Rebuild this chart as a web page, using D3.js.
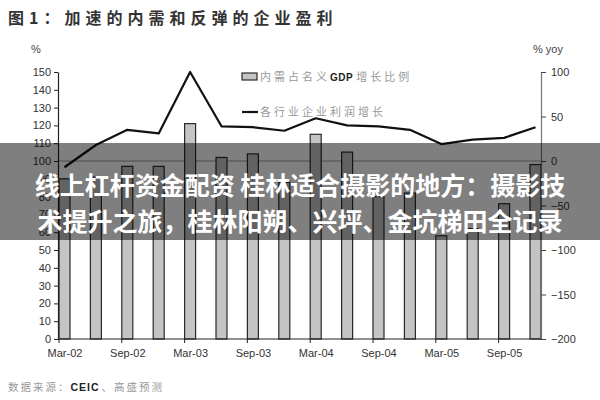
<!DOCTYPE html>
<html><head><meta charset="utf-8">
<script src="https://cdn.jsdelivr.net/npm/d3@7"></script>
<style>
html,body{margin:0;padding:0;background:#fff;}
svg{display:block;font-family:"Noto Sans CJK SC","Liberation Sans",sans-serif;}
</style></head>
<body>
<svg id="c" width="600" height="400"></svg>
<script>
const quarters = ["Mar-02","Jun-02","Sep-02","Dec-02","Mar-03","Jun-03","Sep-03","Dec-03","Mar-04","Jun-04","Sep-04","Dec-04","Mar-05","Jun-05","Sep-05","Dec-05"];
const tickLabels = ["Mar-02","Sep-02","Mar-03","Sep-03","Mar-04","Sep-04","Mar-05","Sep-05"];
const demandShare = [90, 91, 97, 97, 121, 102, 104, 88, 115, 105, 80, 82, 58, 62, 76, 98];
const profitGrowth = [-7, 18, 35, 31, 100, 39, 38, 34, 48, 40, 39, 35, 19, 24, 26, 38];
const leftTicks = [0,10,20,30,40,50,60,70,80,90,100,110,120,130,140,150];
const rightTicks = [100,50,0,-50,-100,-150,-200];
const legendLabels = [["内需占名义","GDP","增长比例"],["各行业企业利润增长"]];
const titleText = "图1：加速的内需和反弹的企业盈利";
const sourceText = ["数据来源：","CEIC","、高盛预测"];
const overlayLines = ["线上杠杆资金配资 桂林适合摄影的地方：摄影技","术提升之旅，桂林阳朔、兴坪、金坑梯田全记录"];

const svg = d3.select("#c");
const X0 = 58, X1 = 541, Y0 = 339, Y1 = 72;
const x = d3.scalePoint().domain(quarters).range([64.5, 535.5]);
const yL = d3.scaleLinear().domain([0,150]).range([Y0,Y1]);
const yR = d3.scaleLinear().domain([-200,100]).range([Y0,Y1]);

// title
svg.append("text").attr("x",8).attr("y",24).attr("font-size",16).attr("font-weight","bold")
  .attr("fill","#333").attr("letter-spacing",5).text(titleText);
svg.append("text").attr("x",31).attr("y",53).attr("font-size",11).attr("fill","#444")
  .attr("font-family","Liberation Sans, Arial").text("%");
svg.append("text").attr("x",533).attr("y",53).attr("font-size",11).attr("fill","#444")
  .attr("font-family","Liberation Sans, Arial").text("% yoy");

// reference line at 100 / 0
svg.append("line").attr("x1",X0).attr("x2",X1).attr("y1",yL(100)).attr("y2",yL(100))
  .attr("stroke","#999").attr("stroke-width",1);

// bars
svg.append("g").selectAll("rect").data(demandShare).join("rect")
  .attr("x",(d,i)=>x(quarters[i])-5.5).attr("width",11)
  .attr("y",d=>yL(d)).attr("height",d=>Y0-yL(d))
  .attr("fill","#c4c4c4").attr("stroke","#2a2a2a").attr("stroke-width",1.2);

// line
const line = d3.line().x((d,i)=>x(quarters[i])).y(d=>yR(d));
svg.append("path").datum(profitGrowth).attr("d",line).attr("fill","none")
  .attr("stroke","#111").attr("stroke-width",2.2).attr("stroke-linejoin","round");

// left axis
const gL = svg.append("g").attr("transform",`translate(${X0},0)`)
  .call(d3.axisLeft(yL).tickValues(leftTicks).tickSize(4).tickSizeOuter(0));
gL.select(".domain").attr("stroke","#222").attr("stroke-width",1.2);
gL.selectAll(".tick line").attr("stroke","#222");
gL.selectAll("text").attr("font-size",11).attr("fill","#333").attr("font-family","Liberation Sans, Arial");

// right axis
const gR = svg.append("g").attr("transform",`translate(${X1},0)`)
  .call(d3.axisRight(yR).tickValues(rightTicks).tickSize(5).tickSizeOuter(0).tickPadding(5));
gR.select(".domain").attr("stroke","#777").attr("stroke-width",1.2);
gR.selectAll(".tick line").attr("stroke","#444");
gR.selectAll("text").attr("font-size",11).attr("fill","#333").attr("font-family","Liberation Sans, Arial");

// bottom axis
svg.append("line").attr("x1",X0).attr("x2",X1).attr("y1",Y0).attr("y2",Y0).attr("stroke","#222").attr("stroke-width",1.2);
const gB = svg.append("g").attr("transform",`translate(0,${Y0})`)
  .call(d3.axisBottom(x).tickValues(tickLabels).tickSize(0).tickPadding(10));
gB.select(".domain").remove();
gB.selectAll("text").attr("font-size",11).attr("fill","#333").attr("font-family","Liberation Sans, Arial");
svg.append("g").selectAll("line").data(tickLabels).join("line")
  .attr("x1",d=>x(d)-5.5).attr("x2",d=>x(d)-5.5).attr("y1",Y0).attr("y2",Y0+4)
  .attr("stroke","#222");

// legend
const lg = svg.append("g");
lg.append("rect").attr("x",242).attr("y",73).attr("width",15).attr("height",7)
  .attr("fill","#c4c4c4").attr("stroke","#2a2a2a").attr("stroke-width",1.2);
const l1 = lg.append("text").attr("x",260).attr("y",81).attr("font-size",11).attr("fill","#999").attr("letter-spacing",3);
l1.append("tspan").text(legendLabels[0][0]);
l1.append("tspan").attr("font-weight","bold").attr("fill","#222").attr("letter-spacing",0.5)
  .attr("font-family","Liberation Sans, Arial").attr("font-size",10).text(legendLabels[0][1]);
l1.append("tspan").attr("dx",3).text(legendLabels[0][2]);
lg.append("line").attr("x1",242).attr("x2",258).attr("y1",112).attr("y2",112).attr("stroke","#111").attr("stroke-width",2.2);
lg.append("text").attr("x",260).attr("y",116).attr("font-size",11).attr("fill","#999").attr("letter-spacing",3).text(legendLabels[1][0]);

// source
const src = svg.append("text").attr("x",8).attr("y",391).attr("font-size",10.5).attr("fill","#999").attr("letter-spacing",2);
src.append("tspan").text(sourceText[0]);
src.append("tspan").attr("font-weight","bold").attr("fill","#222").attr("font-family","Liberation Sans, Arial").attr("letter-spacing",1).text(sourceText[1]);
src.append("tspan").attr("dx",2).text(sourceText[2]);

// overlay band
svg.append("rect").attr("x",0).attr("y",143).attr("width",600).attr("height",97)
  .attr("fill","rgba(0,0,0,0.5)");
svg.append("g").selectAll("text").data(overlayLines).join("text")
  .attr("x",300).attr("y",(d,i)=>195+i*36).attr("text-anchor","middle")
  .attr("font-size",25).attr("font-weight","bold").attr("fill","#fff").text(d=>d);
</script>
</body></html>
